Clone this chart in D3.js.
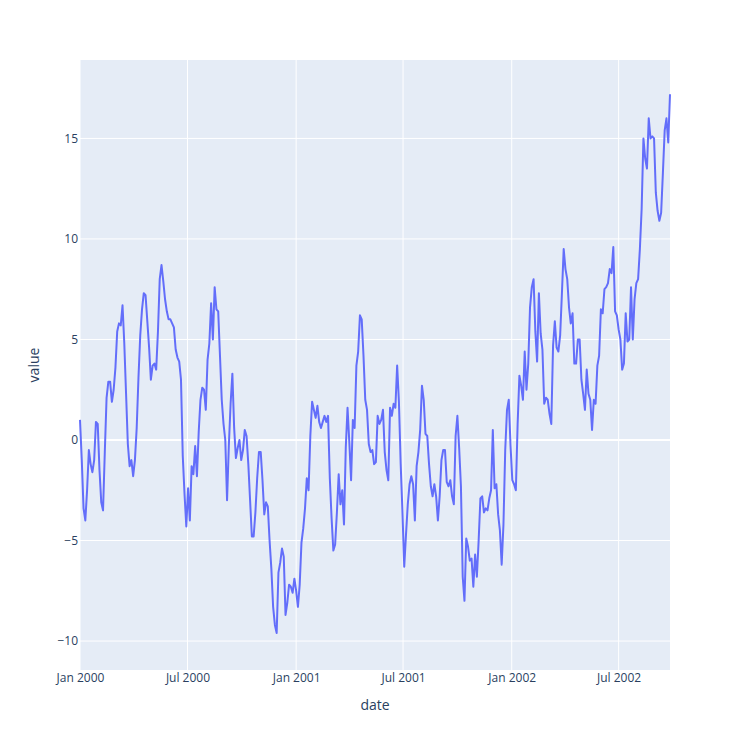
<!DOCTYPE html>
<html>
<head>
<meta charset="utf-8">
<script src="https://cdn.jsdelivr.net/npm/d3@7"></script>
<style>
  body { margin: 0; background: #fff; }
  svg text { font-family: "Open Sans", "Noto Sans", sans-serif; fill: #2a3f5f; }
</style>
</head>
<body>
<div id="chart"></div>
<script>
// Series: one reading every 3 days, starting 2000-01-01
const startDate = "2000-01-01";
const stepDays = 3;
const values = [
  1.0, -1.0, -3.4, -4.0, -2.5, -0.5, -1.2, -1.6, -1.0, 0.9,
  0.8, -1.5, -3.1, -3.5, -0.6, 2.1, 2.9, 2.9, 1.9, 2.5,
  3.6, 5.4, 5.8, 5.7, 6.7, 4.8, 2.3, -0.2, -1.3, -1.0,
  -1.8, -1.0, 0.6, 3.1, 5.2, 6.5, 7.3, 7.2, 5.9, 4.6,
  3.0, 3.7, 3.8, 3.5, 5.4, 8.0, 8.7, 7.9, 7.0, 6.4,
  6.0, 6.0, 5.8, 5.6, 4.5, 4.1, 3.9, 3.0, -0.8, -2.7,
  -4.3, -2.4, -4.0, -1.3, -1.7, -0.3, -1.8, 0.4, 2.0, 2.6,
  2.5, 1.5, 4.0, 4.8, 6.8, 5.0, 7.6, 6.5, 6.4, 4.2,
  2.0, 0.8, 0.0, -3.0, -0.3, 1.8, 3.3, 0.6, -0.9, -0.4,
  0.0, -1.0, -0.5, 0.5, 0.2, -1.2, -3.0, -4.8, -4.8, -3.6,
  -1.9, -0.6, -0.6, -2.0, -3.7, -3.1, -3.3, -5.0, -6.4, -8.3,
  -9.2, -9.6, -6.6, -6.1, -5.4, -5.8, -8.7, -8.1, -7.2, -7.3,
  -7.6, -6.9, -7.5, -8.3, -7.2, -5.1, -4.4, -3.4, -1.9, -2.5,
  0.2, 1.9, 1.5, 1.1, 1.7, 0.9, 0.6, 0.9, 1.2, 0.9,
  1.2, -1.9, -3.9, -5.5, -5.2, -3.6, -1.7, -3.2, -2.5, -4.2,
  -0.4, 1.6, -0.1, -2.0, 1.0, 0.6, 3.7, 4.4, 6.2, 6.0,
  4.2, 2.0, 1.5, -0.2, -0.6, -0.5, -1.2, -1.1, 1.2, 0.8,
  1.0, 1.5, -0.6, -1.5, -2.0, 1.6, 1.2, 1.8, 1.6, 3.7,
  1.9, -1.2, -3.6, -6.3, -4.7, -3.2, -2.2, -1.8, -2.2, -4.0,
  -1.3, -0.6, 0.5, 2.7, 2.0, 0.3, 0.2, -1.2, -2.3, -2.8,
  -2.2, -2.8, -4.0, -2.8, -1.0, -0.5, -0.5, -2.1, -2.3, -2.0,
  -2.8, -3.2, 0.2, 1.2, -0.4, -2.3, -6.8, -8.0, -4.9, -5.3,
  -6.0, -5.9, -7.3, -5.7, -6.8, -5.0, -2.9, -2.8, -3.6, -3.4,
  -3.5, -2.9, -2.5, 0.5, -2.4, -2.2, -3.7, -4.5, -6.2, -4.2,
  -0.5, 1.5, 2.0, -0.3, -2.0, -2.2, -2.5, 0.8, 3.2, 2.7,
  2.0, 4.4, 2.5, 3.8, 6.6, 7.6, 8.0, 5.4, 3.9, 7.3,
  5.3, 4.5, 1.8, 2.1, 2.0, 1.3, 0.8, 4.7, 5.9, 4.6,
  4.4, 5.2, 7.3, 9.5, 8.5, 8.0, 6.6, 5.8, 6.3, 3.8,
  3.8, 5.0, 5.0, 3.0, 2.3, 1.5, 3.5, 2.3, 2.0, 0.5,
  2.0, 1.8, 3.7, 4.2, 6.5, 6.3, 7.5, 7.6, 7.8, 8.5,
  8.3, 9.6, 6.4, 6.2, 5.5, 5.0, 3.5, 3.8, 6.3, 4.9,
  5.0, 7.6, 5.0, 7.0, 7.8, 8.0, 9.5, 11.5, 15.0, 14.0,
  13.5, 16.0, 15.0, 15.1, 15.0, 12.3, 11.4, 10.9, 11.3, 13.3,
  15.4, 16.0, 14.8, 17.2
];
const yTicks = [-10, -5, 0, 5, 10, 15];
const xTickLabels = ["Jan 2000", "Jul 2000", "Jan 2001", "Jul 2001", "Jan 2002", "Jul 2002"];
const xTickDates = ["2000-01-01", "2000-07-01", "2001-01-01", "2001-07-01", "2002-01-01", "2002-07-01"];

const width = 750, height = 750;
const margin = { top: 60, right: 80, bottom: 80, left: 80 };
const parse = d3.utcParse("%Y-%m-%d");
const start = parse(startDate);

const data = values.map((v, i) => ({ date: d3.utcDay.offset(start, i * stepDays), value: v }));

const x = d3.scaleUtc()
    .domain(d3.extent(data, d => d.date))
    .range([margin.left, width - margin.right]);

const y = d3.scaleLinear()
    .domain([-11.44, 18.9])
    .range([height - margin.bottom, margin.top]);

const svg = d3.select("#chart")
    .append("svg")
    .attr("width", width)
    .attr("height", height);

// plot background
svg.append("rect")
    .attr("x", margin.left)
    .attr("y", margin.top)
    .attr("width", width - margin.left - margin.right)
    .attr("height", height - margin.top - margin.bottom)
    .attr("fill", "#E5ECF6");

// vertical grid lines
svg.append("g")
    .selectAll("line")
    .data(xTickDates.map(parse))
    .join("line")
    .attr("x1", d => x(d)).attr("x2", d => x(d))
    .attr("y1", margin.top).attr("y2", height - margin.bottom)
    .attr("stroke", "#fff")
    .attr("stroke-width", 1);

// horizontal grid lines, zero line thicker
svg.append("g")
    .selectAll("line")
    .data(yTicks)
    .join("line")
    .attr("x1", margin.left).attr("x2", width - margin.right)
    .attr("y1", d => y(d)).attr("y2", d => y(d))
    .attr("stroke", "#fff")
    .attr("stroke-width", d => d === 0 ? 2 : 1);

// the series
const line = d3.line()
    .x(d => x(d.date))
    .y(d => y(d.value));

svg.append("path")
    .datum(data)
    .attr("d", line)
    .attr("fill", "none")
    .attr("stroke", "#636efa")
    .attr("stroke-width", 2)
    .attr("stroke-linejoin", "round");

// axes (labels only, plotly style)
const xAxis = svg.append("g")
    .attr("transform", `translate(0,${height - margin.bottom})`)
    .call(d3.axisBottom(x)
        .tickValues(xTickDates.map(parse))
        .tickFormat((d, i) => xTickLabels[i])
        .tickSize(0)
        .tickPadding(3));
xAxis.select(".domain").remove();
xAxis.selectAll("text")
    .attr("font-size", 12)
    .style("fill", "#2a3f5f");

const yAxis = svg.append("g")
    .attr("transform", `translate(${margin.left},0)`)
    .call(d3.axisLeft(y)
        .tickValues(yTicks)
        .tickFormat(d => d < 0 ? "\u2212" + Math.abs(d) : String(d))
        .tickSize(0)
        .tickPadding(2));
yAxis.select(".domain").remove();
yAxis.selectAll("text")
    .attr("font-size", 12)
    .style("fill", "#2a3f5f");

// axis titles
svg.append("text")
    .attr("x", margin.left + (width - margin.left - margin.right) / 2)
    .attr("y", 710)
    .attr("text-anchor", "middle")
    .attr("font-size", 14)
    .text("date");

svg.append("text")
    .attr("transform", `translate(39,${margin.top + (height - margin.top - margin.bottom) / 2}) rotate(-90)`)
    .attr("text-anchor", "middle")
    .attr("font-size", 14)
    .text("value");
</script>
</body>
</html>
